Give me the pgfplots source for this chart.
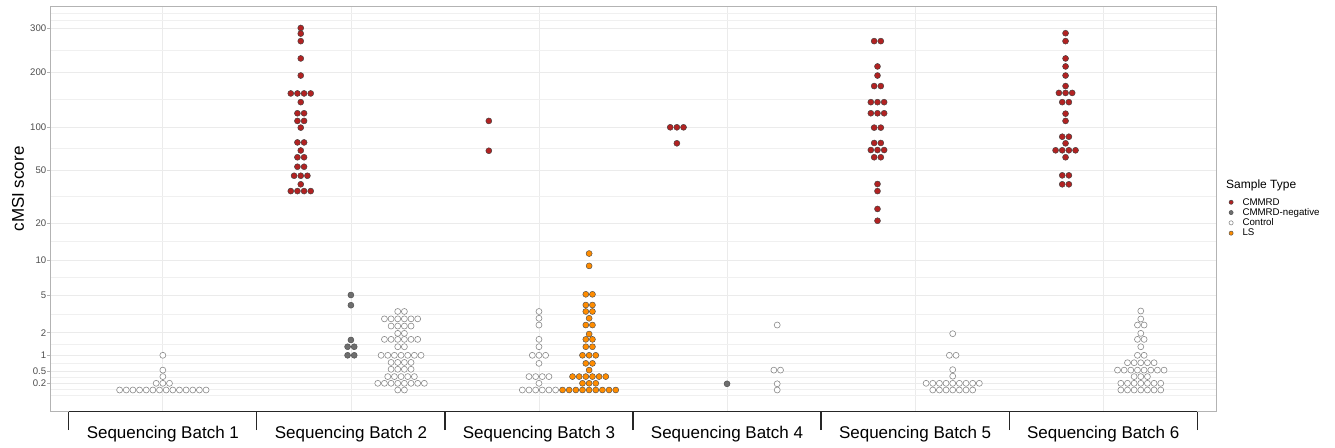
\documentclass[border=0pt]{standalone}
\usepackage{fontspec}
\setmainfont{Liberation Sans}
\usepackage{pgfplots}
\usepackage{pgfplotstable}
\pgfplotsset{compat=1.18}

\definecolor{cmmrd}{HTML}{B22222}
\definecolor{cneg}{HTML}{6E6E6E}
\definecolor{lsc}{HTML}{FF8C00}
\definecolor{ctrlc}{HTML}{8A8A8A}
\definecolor{gridc}{HTML}{EBEBEB}
\definecolor{borderc}{HTML}{B3B3B3}
\definecolor{tickc}{HTML}{4D4D4D}

% columns: x = batch position (with dodge), k = slot in the swarm row (half dot widths), v = cMSI score
\pgfplotstableread[row sep=\\]{
x k v\\
1.7333 0 300\\ 1.7333 0 285\\ 1.7333 0 266\\ 1.7333 0 227\\ 1.7333 0 192\\
1.7333 -3 153\\ 1.7333 -1 153\\ 1.7333 1 153\\ 1.7333 3 153\\
1.7333 0 137\\ 1.7333 -1 119\\ 1.7333 1 119\\ 1.7333 -1 108\\ 1.7333 1 108\\
1.7333 0 99\\ 1.7333 -1 78\\ 1.7333 1 78\\ 1.7333 0 68.5\\
1.7333 -1 61.4\\ 1.7333 1 61.4\\ 1.7333 -1 52.7\\ 1.7333 1 52.7\\
1.7333 -2 45.3\\ 1.7333 0 45.3\\ 1.7333 2 45.3\\ 1.7333 0 39.1\\
1.7333 -3 34.8\\ 1.7333 -1 34.8\\ 1.7333 1 34.8\\ 1.7333 3 34.8\\
2.7333 0 108\\ 2.7333 0 68.2\\
3.7333 -2 99.5\\ 3.7333 0 99.5\\ 3.7333 2 99.5\\ 3.7333 0 76.9\\
4.8 -1 266\\ 4.8 1 266\\ 4.8 0 211\\ 4.8 0 192\\ 4.8 -1 168\\ 4.8 1 168\\
4.8 -2 137\\ 4.8 0 137\\ 4.8 2 137\\ 4.8 -2 119\\ 4.8 0 119\\ 4.8 2 119\\
4.8 -1 99\\ 4.8 1 99\\ 4.8 -1 77.3\\ 4.8 1 77.3\\
4.8 -2 69\\ 4.8 0 69\\ 4.8 2 69\\ 4.8 -1 61.4\\ 4.8 1 61.4\\
4.8 0 39.3\\ 4.8 0 34.8\\ 4.8 0 25.6\\ 4.8 0 20.9\\
5.8 0 286\\ 5.8 0 266\\ 5.8 0 227\\ 5.8 0 211\\ 5.8 0 192\\ 5.8 0 168\\
5.8 -2 154\\ 5.8 0 154\\ 5.8 2 154\\ 5.8 -1 137\\ 5.8 1 137\\
5.8 0 118.4\\ 5.8 0 108\\ 5.8 -1 85.5\\ 5.8 1 85.5\\ 5.8 0 76.9\\
5.8 -3 68.7\\ 5.8 -1 68.7\\ 5.8 1 68.7\\ 5.8 3 68.7\\ 5.8 0 61.4\\
5.8 -1 45.6\\ 5.8 1 45.6\\ 5.8 -1 39.1\\ 5.8 1 39.1\\
}\cmmrdtab

\pgfplotstableread[row sep=\\]{
x k v\\
2 0 5.0\\ 2 0 3.9\\ 2 0 1.6\\ 2 -1 1.3\\ 2 1 1.3\\ 2 -1 1.0\\ 2 1 1.0\\
4 0 0.19\\
}\negtab

\pgfplotstableread[row sep=\\]{
x k v\\
1 -13 0.1\\ 1 -11 0.1\\ 1 -9 0.1\\ 1 -7 0.1\\ 1 -5 0.1\\ 1 -3 0.1\\ 1 -1 0.1\\
1 1 0.1\\ 1 3 0.1\\ 1 5 0.1\\ 1 7 0.1\\ 1 9 0.1\\ 1 11 0.1\\ 1 13 0.1\\
1 -2 0.2\\ 1 0 0.2\\ 1 2 0.2\\ 1 0 0.33\\ 1 0 0.52\\ 1 0 1.0\\
2.2667 -1 3.35\\ 2.2667 1 3.35\\
2.2667 -5 2.8\\ 2.2667 -3 2.8\\ 2.2667 -1 2.8\\ 2.2667 1 2.8\\ 2.2667 3 2.8\\ 2.2667 5 2.8\\
2.2667 -3 2.35\\ 2.2667 -1 2.35\\ 2.2667 1 2.35\\ 2.2667 3 2.35\\
2.2667 -1 1.96\\ 2.2667 1 1.96\\
2.2667 -5 1.63\\ 2.2667 -3 1.63\\ 2.2667 -1 1.63\\ 2.2667 1 1.63\\ 2.2667 3 1.63\\ 2.2667 5 1.63\\
2.2667 -1 1.3\\ 2.2667 1 1.3\\
2.2667 -6 1.0\\ 2.2667 -4 1.0\\ 2.2667 -2 1.0\\ 2.2667 0 1.0\\ 2.2667 2 1.0\\ 2.2667 4 1.0\\ 2.2667 6 1.0\\
2.2667 -3 0.73\\ 2.2667 -1 0.73\\ 2.2667 1 0.73\\ 2.2667 3 0.73\\
2.2667 -3 0.54\\ 2.2667 -1 0.54\\ 2.2667 1 0.54\\ 2.2667 3 0.54\\
2.2667 -4 0.33\\ 2.2667 -2 0.33\\ 2.2667 0 0.33\\ 2.2667 2 0.33\\ 2.2667 4 0.33\\
2.2667 -7 0.2\\ 2.2667 -5 0.2\\ 2.2667 -3 0.2\\ 2.2667 -1 0.2\\ 2.2667 1 0.2\\ 2.2667 3 0.2\\ 2.2667 5 0.2\\ 2.2667 7 0.2\\
2.2667 -1 0.1\\ 2.2667 1 0.1\\
3 0 3.35\\ 3 0 2.84\\ 3 0 2.41\\ 3 0 1.63\\ 3 0 1.3\\
3 -2 1.0\\ 3 0 1.0\\ 3 2 1.0\\ 3 0 0.70\\
3 -3 0.33\\ 3 -1 0.33\\ 3 1 0.33\\ 3 3 0.33\\ 3 0 0.2\\
3 -5 0.1\\ 3 -3 0.1\\ 3 -1 0.1\\ 3 1 0.1\\ 3 3 0.1\\ 3 5 0.1\\
4.2667 0 2.41\\ 4.2667 -1 0.52\\ 4.2667 1 0.52\\ 4.2667 0 0.19\\ 4.2667 0 0.1\\
5.2 0 1.94\\ 5.2 -1 1.0\\ 5.2 1 1.0\\ 5.2 0 0.53\\ 5.2 0 0.34\\
5.2 -8 0.2\\ 5.2 -6 0.2\\ 5.2 -4 0.2\\ 5.2 -2 0.2\\ 5.2 0 0.2\\ 5.2 2 0.2\\ 5.2 4 0.2\\ 5.2 6 0.2\\ 5.2 8 0.2\\
5.2 -6 0.1\\ 5.2 -4 0.1\\ 5.2 -2 0.1\\ 5.2 0 0.1\\ 5.2 2 0.1\\ 5.2 4 0.1\\ 5.2 6 0.1\\
6.2 0 3.39\\ 6.2 0 2.79\\ 6.2 -1 2.41\\ 6.2 1 2.41\\ 6.2 0 1.96\\
6.2 -1 1.63\\ 6.2 1 1.63\\ 6.2 0 1.3\\ 6.2 -1 1.0\\ 6.2 1 1.0\\
6.2 -4 0.72\\ 6.2 -2 0.72\\ 6.2 0 0.72\\ 6.2 2 0.72\\ 6.2 4 0.72\\
6.2 -7 0.52\\ 6.2 -5 0.52\\ 6.2 -3 0.52\\ 6.2 -1 0.52\\ 6.2 1 0.52\\ 6.2 3 0.52\\ 6.2 5 0.52\\ 6.2 7 0.52\\
6.2 -2 0.33\\ 6.2 0 0.33\\ 6.2 2 0.33\\
6.2 -6 0.2\\ 6.2 -4 0.2\\ 6.2 -2 0.2\\ 6.2 0 0.2\\ 6.2 2 0.2\\ 6.2 4 0.2\\ 6.2 6 0.2\\
6.2 -6 0.1\\ 6.2 -4 0.1\\ 6.2 -2 0.1\\ 6.2 0 0.1\\ 6.2 2 0.1\\ 6.2 4 0.1\\ 6.2 6 0.1\\
}\ctrltab

\pgfplotstableread[row sep=\\]{
x k v\\
3.2667 0 11.3\\ 3.2667 0 8.9\\ 3.2667 -1 5.07\\ 3.2667 1 5.07\\
3.2667 -1 3.92\\ 3.2667 1 3.92\\ 3.2667 -1 3.35\\ 3.2667 1 3.35\\
3.2667 0 2.84\\ 3.2667 -1 2.41\\ 3.2667 1 2.41\\ 3.2667 0 1.92\\
3.2667 -1 1.63\\ 3.2667 1 1.63\\ 3.2667 -1 1.3\\ 3.2667 1 1.3\\
3.2667 -2 1.0\\ 3.2667 0 1.0\\ 3.2667 2 1.0\\ 3.2667 -1 0.70\\ 3.2667 1 0.70\\
3.2667 0 0.52\\
3.2667 -5 0.33\\ 3.2667 -3 0.33\\ 3.2667 -1 0.33\\ 3.2667 1 0.33\\ 3.2667 3 0.33\\ 3.2667 5 0.33\\
3.2667 -2 0.2\\ 3.2667 0 0.2\\ 3.2667 2 0.2\\
3.2667 -8 0.1\\ 3.2667 -6 0.1\\ 3.2667 -4 0.1\\ 3.2667 -2 0.1\\ 3.2667 0 0.1\\ 3.2667 2 0.1\\ 3.2667 4 0.1\\ 3.2667 6 0.1\\ 3.2667 8 0.1\\
}\lstab

\begin{document}
\begin{tikzpicture}[
  declare function={
    cl(\p,\q)=min(max(\p,0),\q);
    lg(\v)=ln(\v)*0.4342945;
    ytr(\v)=21.7 + 22.26*min(lg(\v)+1,0.30103)
      + 30.90*cl(lg(\v)+0.69897,0.39794)
      + 52.16*cl(lg(\v)+0.30103,0.30103)
      + 75.08*cl(lg(\v),0.30103)
      + 94.72*cl(lg(\v)-0.30103,0.39794)
      + 116.28*cl(lg(\v)-0.69897,0.30103)
      + 121.93*cl(lg(\v)-1,0.30103)
      + 133.92*cl(lg(\v)-1.30103,0.39794)
      + 142.86*cl(lg(\v)-1.69897,0.30103)
      + 181.73*cl(lg(\v)-2,0.30103)
      + 251.6*max(lg(\v)-2.30103,0);
  }]
\begin{axis}[
  at={(50pt,35.3pt)}, anchor=south west,
  scale only axis, width=1166pt, height=405.7pt,
  xmin=0.4, xmax=6.6, ymin=0, ymax=405.7,
  clip=false,
  axis line style={draw=borderc, line width=0.9pt},
  tick pos=left,
  tick align=outside,
  major tick length=3pt, minor tick length=0pt,
  xtick={1,2,3,4,5,6},
  xticklabels={Sequencing Batch 1,Sequencing Batch 2,Sequencing Batch 3,Sequencing Batch 4,Sequencing Batch 5,Sequencing Batch 6},
  xtick style={draw=none},
  xticklabel style={font=\fontsize{17}{20}\selectfont, text=black, anchor=base, yshift=-23.6pt, inner sep=0pt},
  extra x ticks={0.5,1.5,2.5,3.5,4.5,5.5,6.5},
  extra x tick labels={},
  extra x tick style={grid=none, major tick length=18.5pt, tick align=outside, xtick style={draw=black!85, line width=1.2pt}},
  ytick={28.4,40.7,56.4,79.0,116.7,151.7,188.4,241.7,284.7,339.4,383.7},
  yticklabels={0.2,0.5,1,2,5,10,20,50,100,200,300},
  minor ytick={16.7,22.4,34.55,48.55,67.7,97.85,134.2,170.05,215.05,263.2,312.05,361.55,391.7,398.4},
  ytick style={draw=borderc, line width=0.6pt},
  yticklabel style={font=\fontsize{9.6}{11}\selectfont, text=tickc, inner sep=0.6pt},
  ymajorgrids, yminorgrids, xmajorgrids,
  major grid style={draw=gridc, line width=0.7pt},
  minor grid style={draw=gridc!75, line width=0.5pt},
  ylabel={cMSI score},
  ylabel style={at={(axis description cs:-0.0274,0.549)}, anchor=center, font=\fontsize{17}{20}\selectfont, text=black},
  legend style={at={(axis description cs:1.01089,0.5267)}, anchor=north west, draw=none, fill=none,
    inner sep=0pt, outer sep=0pt, row sep=1.8pt, font=\fontsize{9.7}{10}\selectfont,
    /tikz/every odd column/.append style={column sep=9pt},
    nodes={inner sep=0pt, text height=7pt, text depth=1.5pt}},
  legend cell align=left,
  legend image code/.code={\filldraw[#1] (2pt,0pt) circle[radius=2.1pt];},
]
\addplot[only marks, mark=*, mark size=3pt, draw=black!75, fill=cmmrd, line width=0.45pt]
  table[x expr=\thisrow{x}+0.01768*\thisrow{k}, y expr={ytr(\thisrow{v})}] {\cmmrdtab};
\addlegendentry{CMMRD}
\addplot[only marks, mark=*, mark size=3pt, draw=black!70, fill=cneg, line width=0.45pt]
  table[x expr=\thisrow{x}+0.01768*\thisrow{k}, y expr={ytr(\thisrow{v})}] {\negtab};
\addlegendentry{CMMRD-negative}
\addplot[only marks, mark=*, mark size=3pt, draw=ctrlc, fill=white, line width=0.6pt]
  table[x expr=\thisrow{x}+0.01768*\thisrow{k}, y expr={ytr(\thisrow{v})}] {\ctrltab};
\addlegendentry{Control}
\addplot[only marks, mark=*, mark size=3pt, draw=black!70, fill=lsc, line width=0.45pt]
  table[x expr=\thisrow{x}+0.01768*\thisrow{k}, y expr={ytr(\thisrow{v})}] {\lstab};
\addlegendentry{LS}
\draw[black!85, line width=1.2pt] (axis cs:0.5,0) -- (axis cs:6.5,0);
\end{axis}
\node[anchor=west, inner sep=0pt, font=\fontsize{12}{14}\selectfont] at (1226pt,262pt) {Sample Type};
\pgfresetboundingbox
\path[use as bounding box] (0,0) rectangle (1335pt,447pt);
\end{tikzpicture}
\end{document}
